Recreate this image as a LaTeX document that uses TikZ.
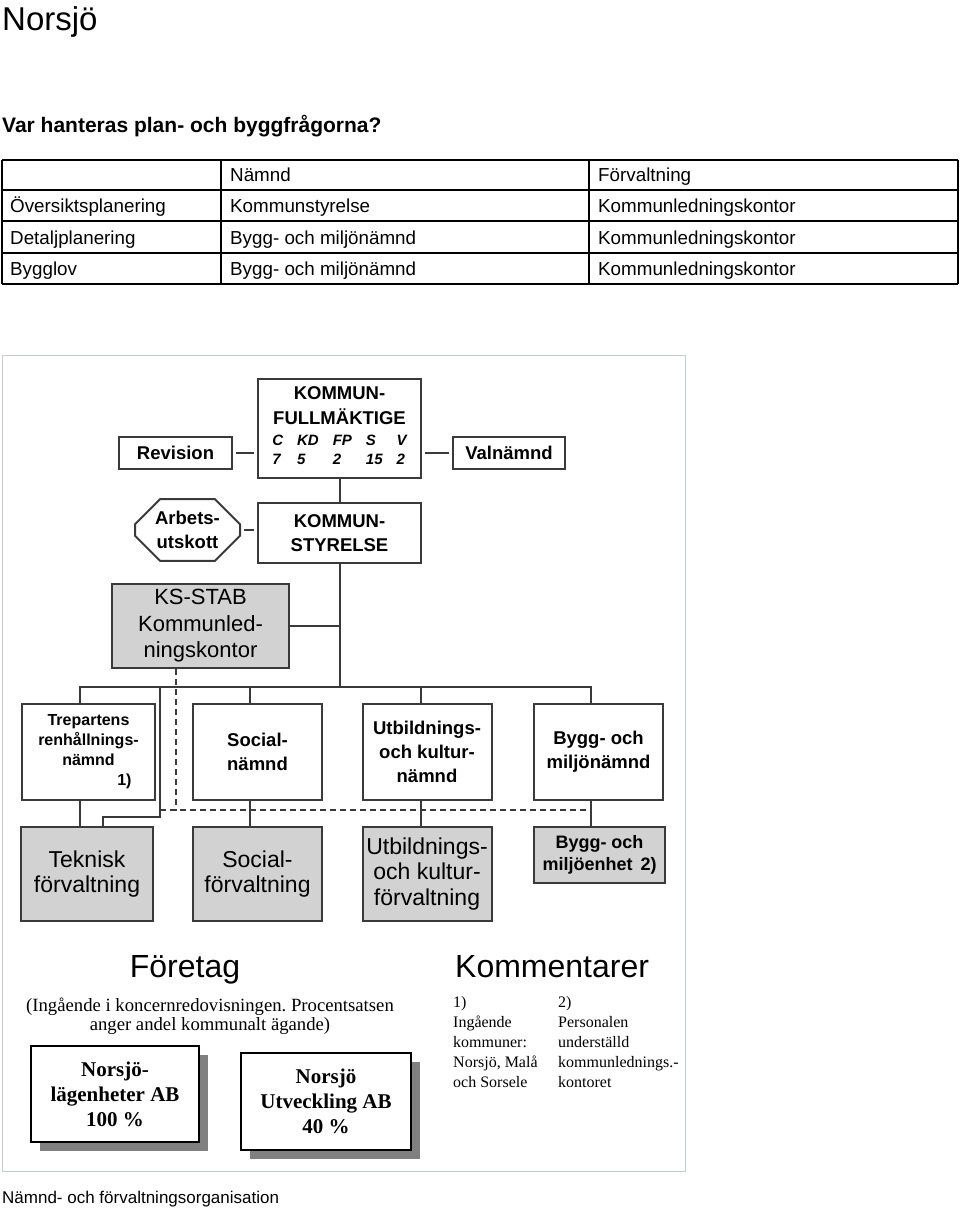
\documentclass[tikz,border=0pt]{standalone}
\usepackage{fontspec}
\setmainfont{Liberation Sans}
\newfontfamily\timesfont{Liberation Serif}
\usetikzlibrary{shapes.misc,shadows}
\frenchspacing

\definecolor{linegray}{HTML}{3A3A3A}
\definecolor{boxgray}{HTML}{D2D2D2}
\definecolor{framegray}{HTML}{C6CBD3}
\definecolor{shadowgray}{HTML}{808080}

\tikzset{
  link/.style={draw=linegray, line width=2pt},
  sidelink/.style={link, shorten <=3pt, shorten >=3pt},
  dashlink/.style={draw=linegray, line width=1.5pt, dash pattern=on 6pt off 4pt},
  tabline/.style={draw=black, line width=1.6pt},
  cell/.style={anchor=base west, inner sep=0pt, font=\fontsize{18.8}{22}\selectfont},
  ruta/.style={draw=linegray, line width=2pt, fill=white, align=center, inner sep=0pt, font=\bfseries\fontsize{18.5}{24}\selectfont},
  namnd/.style={ruta, minimum width=129pt, minimum height=96pt},
  forv/.style={ruta, fill=boxgray, minimum width=129pt, minimum height=94pt, font=\fontsize{23}{25.5}\selectfont},
  bolag/.style={draw=black, line width=1.2pt, fill=white, align=center, inner sep=0pt, font=\timesfont\bfseries\fontsize{21}{25}\selectfont, drop shadow={shadow xshift=9pt, shadow yshift=-9pt, fill=shadowgray, opacity=1}},
}

\begin{document}
\begin{tikzpicture}[x=1pt, y=-1pt]
  \useasboundingbox (0,0) rectangle (960,1209);
  \fill[white] (0,0) rectangle (960,1209);

  % rubriker
  \node[anchor=base west, inner sep=0pt, font=\fontsize{33}{36}\selectfont] (titel) at (2,31) {Norsjö};
  \node[anchor=base west, inner sep=0pt, font=\bfseries\fontsize{21}{25}\selectfont] (fraga) at (2,133) {Var hanteras plan- och byggfrågorna?};

  % tabell
  \foreach \y in {160,190,221,253,284}
    \draw[tabline] (2,\y) -- (958,\y);
  \foreach \x in {2,221,589,958}
    \draw[tabline] (\x,160) -- (\x,284);
  \foreach \y/\a/\b/\c [count=\i] in {182/{}/Nämnd/Förvaltning,
      212/Översiktsplanering/Kommunstyrelse/Kommunledningskontor,
      244/Detaljplanering/Bygg- och miljönämnd/Kommunledningskontor,
      275/Bygglov/Bygg- och miljönämnd/Kommunledningskontor}{
    \node[cell] (omr\i) at (10,\y) {\a};
    \node[cell] (nmd\i) at (230,\y) {\b};
    \node[cell] (frv\i) at (598,\y) {\c};
  }

  % organisationsschema
  \draw[framegray, line width=1pt] (2,355) rectangle (685,1171);

  \node[ruta, minimum width=163pt, minimum height=99pt, font=\bfseries\fontsize{18.5}{25}\selectfont] (kf) at (339.5,428.5)
    {KOMMUN-\\FULLMÄKTIGE\\[-4pt]{\itshape\fontsize{15}{19}\selectfont\begin{tabular}[t]{@{}l@{\hspace{14pt}}l@{\hspace{14pt}}l@{\hspace{14pt}}l@{\hspace{14pt}}l@{}}C&KD&FP&S&V\\7&5&2&15&2\end{tabular}}};
  \node[ruta, minimum width=113pt, minimum height=32pt] (rev) at (175.5,453) {Revision};
  \node[ruta, minimum width=112pt, minimum height=32pt] (val) at (509,453) {Valnämnd};
  \node[ruta, chamfered rectangle, chamfered rectangle xsep=13pt, chamfered rectangle ysep=12pt,
    minimum width=105pt, minimum height=54pt] (au) at (187.5,530) {Arbets-\\utskott};
  \node[ruta, minimum width=163pt, minimum height=60pt] (ks) at (339.5,533) {KOMMUN-\\STYRELSE};
  \node[ruta, fill=boxgray, minimum width=177pt, minimum height=84pt, font=\fontsize{22}{26.5}\selectfont] (stab) at (200.5,626)
    {KS-STAB\\Kommunled-\\ningskontor};

  % nämnder
  \node[namnd, minimum width=133pt, font=\bfseries\fontsize{16}{20}\selectfont] (tr) at (88.5,752)
    {Trepartens\\renhållnings-\\nämnd\\\makebox[86pt][r]{1)}};
  \node[namnd] (sn) at (257.5,752) {Social-\\nämnd};
  \node[namnd] (un) at (427,752) {Utbildnings-\\och kultur-\\nämnd};
  \node[namnd] (bn) at (598.5,752) {Bygg- och\\miljönämnd};

  % förvaltningar
  \node[forv, minimum width=132pt] (tek) at (87,874) {Teknisk\\förvaltning};
  \node[forv] (sf) at (257.5,874) {Social-\\förvaltning};
  \node[forv] (uf) at (427,874) {Utbildnings-\\och kultur-\\förvaltning};
  \node[forv, minimum width=131pt, minimum height=56pt, font=\bfseries\fontsize{18}{22}\selectfont] (bf) at (599.5,855)
    {Bygg- och\\miljöenhet \,2)};

  % linjer
  \coordinate (bus) at (339.5,688);
  \coordinate (tb) at (160,688);
  \draw[link] (kf.south) -- (ks.north);
  \draw[link] (ks.south) -- (bus);
  \draw[link] (stab.east) -- (stab.east -| bus);
  \draw[sidelink] (rev.east) -- (rev.east -| kf.west);
  \draw[sidelink] (val.west) -- (val.west -| kf.east);
  \draw[sidelink] (au.east) -- (au.east -| ks.west);
  \draw[link] ([xshift=-8.5pt]tr.north) -- ++(0,-16) -| ([xshift=-7.5pt]bn.north);
  \draw[link] ([xshift=-7.5pt]sn.north) -- ++(0,-16);
  \draw[link] ([xshift=-6pt]un.north) -- ++(0,-16);
  \draw[link] ([xshift=-8.5pt]tr.south) -- ([xshift=-8.5pt]tr.south |- tek.north);
  \draw[link] ([xshift=-7.5pt]sn.south) -- ([xshift=-7.5pt]sn.south |- sf.north);
  \draw[link] ([xshift=-6pt]un.south) -- ([xshift=-6pt]un.south |- uf.north);
  \draw[link] ([xshift=-7.5pt]bn.south) -- ([xshift=-7.5pt]bn.south |- bf.north);
  \draw[link] (tb) -- ++(0,129) -| ([xshift=16pt]tek.north);
  \draw[dashlink] ([xshift=-24.5pt]stab.south) -- ++(0,142);
  \draw[dashlink] (tb) ++(0,122) -- ([xshift=-7.5pt]bn.south |- 0,810);

  % företag
  \node[anchor=base, inner sep=0pt, font=\fontsize{32}{36}\selectfont] (foretag) at (185,977) {Företag};
  \node[align=center, inner sep=0pt, font=\timesfont\fontsize{18.7}{18.5}\selectfont] (ingaende) at (210,1016)
    {(Ingående i koncernredovisningen. Procentsatsen\\anger andel kommunalt ägande)};
  \node[bolag, minimum width=168pt, minimum height=96pt] (nlag) at (115,1094) {Norsjö-\\lägenheter AB\\100 \%};
  \node[bolag, minimum width=170pt, minimum height=97pt] (nutv) at (326,1101.5) {Norsjö\\Utveckling AB\\40 \%};

  % kommentarer
  \node[anchor=base west, inner sep=0pt, font=\fontsize{32}{36}\selectfont] (komm) at (455,977) {Kommentarer};
  \node[anchor=north west, align=left, inner sep=0pt, font=\timesfont\fontsize{16}{20}\selectfont] (not1) at (453,996)
    {1)\\Ingående\\kommuner:\\Norsjö, Malå\\och Sorsele};
  \node[anchor=north west, align=left, inner sep=0pt, font=\timesfont\fontsize{16}{20}\selectfont] (not2) at (558,996)
    {2)\\Personalen\\underställd\\kommunlednings.-\\kontoret};

  \node[anchor=base west, inner sep=0pt, font=\fontsize{17}{20}\selectfont] (bildtext) at (2,1203) {Nämnd- och förvaltningsorganisation};
\end{tikzpicture}
\end{document}
